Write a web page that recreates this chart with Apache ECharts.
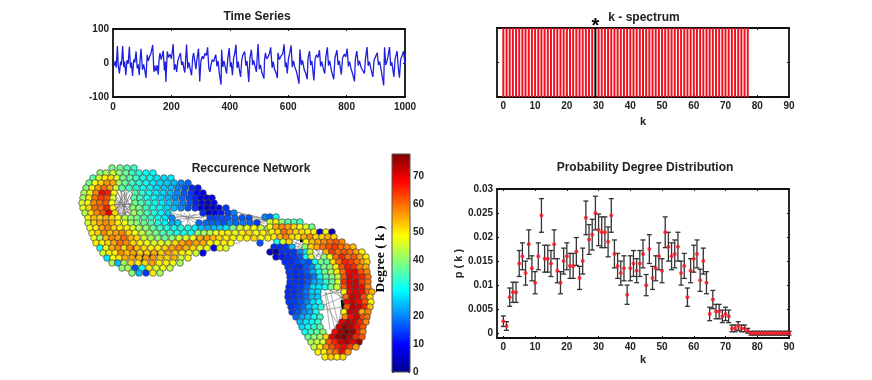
<!DOCTYPE html>
<html><head><meta charset="utf-8">
<style>html,body{margin:0;padding:0;background:#fff}#c{width:872px;height:380px}canvas{filter:blur(0.4px)}</style>
<script src="https://cdn.jsdelivr.net/npm/echarts@6/dist/echarts.min.js"></script></head>
<body><div id="c"></div>
<script>
const tsSamples=[[0,0],[4,-8],[8,6],[11,-14],[15,50],[18,-8],[22,-31],[26,4],[29,-6],[33,50],[37,-12],[40,4],[44,-36],[48,8],[52,-2],[56,48],[60,-14],[63,2],[67,-38],[71,10],[75,2],[79,34],[83,-16],[86,-4],[90,-36],[93,12],[96,42],[101,-20],[105,-4],[109,-22],[113,-44],[117,24],[121,6],[125,18],[130,28],[136,53],[140,-26],[143,-8],[147,-24],[151,-6],[155,-34],[158,12],[161,29],[165,10],[168,20],[172,36],[176,-22],[179,4],[181,-56],[186,34],[190,16],[195,26],[200,12],[206,56],[210,-20],[214,-4],[218,-26],[222,6],[226,18],[231,29],[235,-6],[239,4],[243,-18],[246,-28],[252,54],[256,-16],[260,2],[265,-20],[269,-36],[273,16],[276,30],[280,34],[284,-18],[287,8],[293,42],[297,-54],[301,6],[306,20],[310,12],[315,28],[320,22],[324,46],[328,-14],[332,-26],[336,-4],[340,10],[345,4],[349,18],[352,24],[356,-10],[360,6],[364,-30],[370,-64],[372,39],[376,-12],[380,6],[385,-14],[389,-31],[393,12],[398,44],[402,-12],[405,2],[409,-36],[413,14],[417,28],[421,54],[425,-14],[429,4],[433,-22],[437,-41],[441,10],[445,24],[451,34],[455,-8],[459,6],[465,-56],[469,16],[474,39],[478,-6],[482,8],[487,-12],[491,-26],[494,20],[497,56],[501,-18],[505,-6],[510,-28],[517,-46],[519,10],[522,30],[526,12],[531,18],[536,28],[540,46],[545,-14],[549,4],[553,-18],[558,-28],[563,-44],[565,30],[570,10],[575,20],[581,26],[586,55],[590,-12],[593,2],[597,-31],[601,14],[605,28],[610,52],[614,-12],[618,6],[622,-10],[628,-24],[637,-61],[640,40],[645,-6],[649,8],[655,-20],[660,-30],[665,-48],[668,14],[673,35],[677,-6],[681,6],[688,-51],[692,12],[697,24],[702,16],[707,38],[711,-10],[715,4],[720,-16],[725,-31],[729,18],[734,46],[738,-8],[742,6],[748,-22],[756,-48],[760,14],[767,38],[771,-6],[775,6],[782,-34],[786,14],[792,26],[797,18],[802,42],[806,-10],[810,4],[815,-16],[820,-30],[827,-54],[830,12],[835,35],[840,-8],[844,6],[850,-14],[861,-31],[865,16],[870,47],[874,-8],[878,4],[884,-20],[890,-41],[894,8],[899,18],[905,30],[909,-6],[913,4],[919,-24],[927,-66],[930,46],[934,-6],[938,4],[942,20],[947,47],[951,-8],[955,2],[962,-41],[966,12],[973,35],[977,-14],[981,-43],[985,10],[990,22],[995,35],[1000,-5]];
const tsXTicks=[0,200,400,600,800,1000];
const tsYTicks=[-100,0,100];

const spectrumValues=[1,1,1,1,1,1,1,1,1,1,1,1,1,1,1,1,1,1,1,1,1,1,1,1,1,1,1,1,1,1,1,1,1,1,1,1,1,1,1,1,1,1,1,1,1,1,1,1,1,1,1,1,1,1,1,1,1,1,1,1,1,1,1,1,1,1,1,1,1,1,1,1,1,1,1,1,1,1];
const markedDegree=29;
const kTicks=[0,10,20,30,40,50,60,70,80,90];

const pdfValues=[.0025,.0015,.0075,.0085,.0085,.0145,.016,.0125,.0185,.0135,.0105,.016,.0245,.0155,.0155,.0145,.0185,.013,.0105,.015,.016,.014,.014,.017,.0115,.015,.024,.0195,.0205,.025,.0215,.021,.021,.019,.0245,.0165,.014,.0125,.0135,.008,.0135,.0145,.013,.0145,.0165,.01,.0175,.0115,.0135,.016,.013,.021,.018,.016,.0165,.018,.0125,.014,.0075,.013,.0155,.0165,.011,.015,.0105,.004,.007,.0045,.0045,.0035,.004,.0035,.001,.001,.0015,.001,.001,.0005,0,0,0,0,0,0,0,0,0,0,0,0,0];
const pdfErrors=[.0011,.0009,.0019,.0021,.0021,.0027,.0028,.0025,.003,.0026,.0023,.0028,.0035,.0028,.0028,.0027,.003,.0025,.0023,.0027,.0028,.0026,.0026,.0029,.0024,.0027,.0035,.0031,.0032,.0035,.0033,.0032,.0032,.0031,.0035,.0029,.0026,.0025,.0026,.002,.0026,.0027,.0025,.0027,.0029,.0022,.003,.0024,.0026,.0028,.0025,.0032,.003,.0028,.0029,.003,.0025,.0026,.0019,.0025,.0028,.0029,.0023,.0027,.0023,.0014,.0019,.0015,.0015,.0013,.0014,.0013,.0007,.0007,.0009,.0007,.0007,.0005,.0004,.0004,.0004,.0004,.0004,.0004,.0004,.0004,.0004,.0004,.0004,.0004,.0004];
const pdfYTicks=[0,.005,.01,.015,.02,.025,.03];

const colorbarTicks=[0,10,20,30,40,50,60,70];
const degreeMax=78;
// network nodes by row: [layoutY, layoutX, degree, layoutX, degree, ...]
const netRows=[
[168,112,38,120,38,127,35,134,33],
[173,100,40,106,42,113,45,119,40,126,37,132,34,139,32,146,30,153,30],
[178,93,36,99,45,105,50,111,52,117,46,123,38,130,36,136,34,143,31,150,30,157,28,164,27,171,28],
[183,89,38,95,48,101,52,107,57,113,55,119,42,125,37,132,34,139,32,146,30,153,28,160,27,167,26,174,25,181,22,188,20],
[188,86,40,92,50,98,56,104,60,110,56,116,45,122,36,129,34,136,32,143,30,150,29,157,27,164,26,171,25,178,22,185,18,192,14,198,12],
[193,84,42,90,48,96,58,102,68,108,66,114,50,135,36,142,33,149,30,156,28,163,27,170,25,177,22,184,19,191,15,197,10,203,8],
[198,83,42,89,50,95,60,101,64,107,62,113,46,134,36,140,34,147,31,154,29,161,27,168,25,175,22,182,20,189,17,195,13,201,6,207,6,212,8],
[203,82,46,88,48,94,58,100,60,106,62,112,48,135,38,141,35,148,32,155,30,162,28,169,26,176,24,183,21,190,18,196,13,202,8,208,4,214,10],
[208,83,46,89,52,95,60,101,60,107,66,113,50,133,40,139,38,146,34,153,31,160,29,167,27,174,25,181,22,188,18,195,15,201,6,207,3,213,5,219,8,226,15],
[213,85,42,91,52,97,58,103,62,109,70,115,52,134,42,140,38,147,35,154,31,161,29,168,26,203,14,209,5,215,8,221,12,228,16,234,22],
[218,88,50,94,54,100,52,106,55,112,52,118,48,125,44,131,40,137,38,144,36,151,33,158,30,165,28,172,22,210,17,216,17,222,18,228,18,235,20,242,19,249,18],
[223,88,45,94,52,100,56,106,58,112,55,118,50,125,48,131,42,137,40,144,37,151,35,158,32,165,29,172,24,178,26,199,20,206,20,212,20,218,20,224,18,230,22,236,20,243,21,250,20,257,15],
[228,90,48,96,50,102,56,108,58,114,52,120,50,127,50,133,46,139,42,146,40,153,36,160,34,167,31,174,30,181,32,188,31,195,29,201,25,208,24,214,25,220,26,226,28,233,38,240,45,247,47,254,48,261,45,268,42],
[233,92,50,98,52,104,58,110,54,116,56,122,58,129,52,135,48,142,44,149,40,156,38,163,35,170,34,177,30,184,31,191,30,198,40,204,42,210,43,216,47,222,50,228,50,235,47,242,50,249,52,256,48,263,50,270,48],
[238,94,48,100,42,106,54,112,58,118,56,124,60,131,54,137,52,144,45,151,42,158,40,165,37,172,40,179,45,186,46,193,48,200,55,207,56,213,54,219,52,226,50,233,50,240,48,247,50,254,52,261,48,268,50],
[243,96,50,102,50,108,52,114,56,120,60,126,58,133,52,140,50,147,48,154,46,161,47,168,45,175,52,182,56,189,58,196,56,203,55,210,50,217,48,224,50,231,48,260,18],
[248,100,30,106,48,112,55,118,58,124,52,130,58,137,54,144,52,151,50,158,50,165,52,172,56,179,58,186,55,193,52,200,48,207,47,214,10,220,48,226,46],
[253,103,45,109,50,115,50,121,58,127,54,133,56,140,52,147,53,154,55,161,52,168,56,175,53,182,50,189,48,196,45,203,10],
[258,107,28,113,48,119,50,125,55,132,56,139,54,146,56,153,57,160,53,167,52,174,55,181,45,188,48],
[263,112,42,118,25,124,42,131,52,138,50,145,52,152,56,159,50,166,50,173,48,180,42],
[268,122,40,128,42,135,18,142,30,149,50,156,46,163,48,170,44],
[273,132,40,139,25,146,15,153,50,160,42],
[217,265,22,270,20,276,30],
[222,270,45,276,50,282,40,288,35,294,36,300,34],
[227,270,48,276,55,282,58,288,56,294,52,300,48,306,46,312,38],
[232,272,50,278,52,284,60,290,56,296,52,302,52,308,50,314,50,320,6,326,48,332,4],
[237,274,50,280,55,286,58,292,52,298,50,304,55,310,58,316,52,322,52,328,55,334,52],
[242,277,30,283,45,289,52,306,48,312,54,318,56,324,58,330,60,336,62,342,58],
[247,274,14,280,14,286,15,292,25,305,40,311,52,317,56,323,60,329,62,335,64,341,60,347,58,353,54],
[252,270,5,276,3,282,15,288,15,294,15,300,22,306,28,310,45,326,55,332,64,338,60,344,62,350,60,356,56,362,50],
[257,276,8,282,13,288,14,294,15,300,18,306,30,311,45,324,40,330,48,336,60,342,66,348,60,354,62,360,56,366,50],
[262,285,14,291,14,297,16,303,20,309,18,315,30,321,38,327,36,333,52,339,60,345,66,351,64,357,60,363,56,367,52],
[267,288,15,294,15,300,14,306,19,312,22,318,32,324,38,330,40,336,50,342,62,348,67,354,65,360,58,366,55],
[272,289,15,295,14,301,16,307,19,313,24,319,30,325,38,331,42,337,50,343,60,349,68,355,70,361,62,367,58],
[277,290,15,296,14,302,15,308,17,314,21,320,29,326,36,332,40,338,44,344,62,350,70,356,68,362,66,368,60],
[282,290,15,296,15,302,15,308,19,314,24,320,26,326,32,332,37,338,46,344,65,350,70,356,72,362,64,368,60],
[287,289,14,295,15,301,16,307,20,313,27,319,28,325,30,331,38,337,45,344,62,350,70,356,72,362,68,368,58],
[292,288,14,294,14,300,17,306,21,312,26,318,27,344,48,350,68,356,70,362,68,368,60,372,55],
[297,288,14,294,15,300,17,306,20,312,25,318,26,346,60,352,72,358,70,364,62,370,52],
[302,289,15,295,16,301,19,307,22,313,27,319,30,347,68,353,72,359,68,365,62,371,50],
[307,291,15,297,17,303,20,309,25,315,28,321,32,347,62,353,74,359,72,365,66,370,54],
[312,292,16,298,19,304,22,310,24,316,31,344,48,350,72,356,70,362,55,368,58],
[317,296,20,302,24,308,26,314,30,320,34,345,58,351,68,357,72,363,62,367,60],
[322,300,25,306,28,312,29,318,33,342,70,348,74,354,72,360,66,366,58],
[327,302,27,308,30,314,32,320,36,339,72,345,76,351,74,357,68,363,62],
[332,305,30,311,34,317,36,323,40,335,68,341,76,347,78,353,76,359,66,363,58],
[337,308,37,314,40,320,42,326,52,332,70,338,76,344,78,350,74,356,66,362,62],
[342,311,42,317,44,323,45,329,62,335,66,341,72,347,74,353,70,359,76],
[347,314,44,320,50,326,57,332,62,338,66,344,68,350,64,356,56],
[352,318,50,324,50,330,57,336,60,342,68,348,57],
[357,325,50,331,53,337,50,343,52]
];
// network links: [x1,y1,x2,y2] in layout units
const netLinks=[
[118,192,128,220],[121,192,126,220],[124,192,124,220],[127,192,122,220],[130,194,120,219],[116,196,130,216],[116,200,132,212],[116,204,133,208],[116,208,132,203],[117,212,131,198],[118,216,130,195],[122,190,118,214],[126,190,116,210],[131,204,115,204],[120,191,132,208],[116,198,128,222],[119,222,133,200],[115,212,129,192],[123,190,133,214],[115,200,124,222],[116,206,127,192],[120,220,132,206],[118,194,131,216],[117,202,133,205],[116,214,133,212],
[172,213,202,221],[172,218,205,214],[176,216,204,218],[180,214,198,224],[184,213,192,227],[190,213,186,227],[196,214,178,224],[170,220,210,216],
[215,216,268,222],[236,212,272,220],[240,214,280,222],[250,216,276,224],[235,218,270,228],[238,212,265,224],[255,219,290,224],[225,238,255,236],[205,245,240,243],
[290,240,307,248],[295,238,306,244],[300,236,292,250],[305,237,296,250],[292,245,307,241],[285,243,310,250],
[313,252,323,260],[316,250,322,258],[320,250,314,262],[323,252,312,258],
[325,294,345,292],[330,290,346,300],[335,288,348,310],[340,288,346,322],[330,290,340,330],[325,292,330,330],[322,306,345,296],[322,300,342,330],[326,292,336,334],[345,295,345,328],[343,292,338,332],[324,310,348,306],[322,296,340,290]
];
// dark shadow seen between tightly packed nodes: [x1,y1,x2,y2] in layout units
const netShadows=[
[133,240,136,258],[142,244,142,262],[150,245,150,258],[158,246,158,262],[166,244,166,258],[174,250,174,262],[112,233,118,248],[106,225,110,240],
[345,260,350,290],[342,300,345,320],[365,300,360,330],[300,240,320,240],[205,226,225,222],[190,240,215,236]
];

const frame='#111';
const tickFont={fontFamily:'Liberation Sans',fontWeight:'bold',fontSize:10,color:'#222'};
function pairAxes(type,gridIndex,min,max,ticks,showLabels,labelOpts,extra){
  const pos=type==='x'?['bottom','top']:['left','right'];
  return pos.map((p,i)=>Object.assign({type:'value',gridIndex,position:p,min,max,splitLine:{show:false},
    axisLine:{show:true,onZero:false,lineStyle:{color:frame,width:1.8}},
    axisTick:{show:true,inside:true,length:2,customValues:ticks,lineStyle:{color:frame,width:1}},
    axisLabel:Object.assign({show:i===0&&showLabels,customValues:ticks,margin:4,hideOverlap:false,showMinLabel:true,showMaxLabel:true},tickFont,labelOpts||{})
  },i===0?(extra||{}):{}));
}
const nameStyle={fontFamily:'Liberation Sans',fontWeight:'bold',fontSize:11,color:'#222'};
const fmtP=v=>v===0?'0':String(+v.toFixed(3));

const xAxes=[
  ...pairAxes('x',0,0,1000,tsXTicks,true,{margin:5,formatter:v=>String(v)}),
  ...pairAxes('x',1,-2,90,kTicks,true,{},{name:'k',nameLocation:'middle',nameGap:19,nameTextStyle:nameStyle}),
  {type:'value',gridIndex:2,min:0,max:872,show:false},
  {type:'category',gridIndex:3,data:['k'],show:false},
  ...pairAxes('x',4,-2,90,kTicks,true,{},{name:'k',nameLocation:'middle',nameGap:16,nameTextStyle:nameStyle})
];
const yAxes=[
  ...pairAxes('y',0,-100,100,tsYTicks,true),
  ...pairAxes('y',1,0,1,[0,.5,1],false),
  {type:'value',gridIndex:2,min:0,max:380,inverse:true,show:false},
  {type:'value',gridIndex:3,min:0,max:degreeMax,position:'right',splitLine:{show:false},
   axisLine:{show:false},axisTick:{show:true,inside:true,length:2,customValues:colorbarTicks,lineStyle:{color:'#444'}},
   axisLabel:Object.assign({customValues:colorbarTicks,margin:3},tickFont)},
  {type:'value',gridIndex:3,min:0,max:degreeMax,position:'left',splitLine:{show:false},
   axisLine:{show:false},axisLabel:{show:false},axisTick:{show:true,inside:true,length:2,customValues:colorbarTicks,lineStyle:{color:'#444'}}},
  ...pairAxes('y',4,-.001,.03,pdfYTicks,true,{formatter:fmtP},{name:'p ( k )',nameLocation:'middle',nameGap:26,nameTextStyle:nameStyle})
];

const jet=[[0,'#00008f'],[.125,'#0000ff'],[.375,'#00ffff'],[.625,'#ffff00'],[.875,'#ff0000'],[1,'#800000']];
const netData=[];
netRows.forEach(r=>{for(let i=1;i<r.length;i+=2)netData.push([r[i],r[0],r[i+1]]);});

const option={
  animation:false,backgroundColor:'#fff',
  title:[
    ['Time Series',252,6],['k - spectrum',639,7],['Reccurence Network',246,158],['Probability Degree Distribution',640,157]
  ].map(t=>({text:t[0],left:t[1],top:t[2],textAlign:'center',textStyle:{fontFamily:'Liberation Sans',fontWeight:'bold',fontSize:12,color:'#222'}})),
  grid:[
    {left:113,top:29,width:292,height:68},
    {left:497,top:28,width:292,height:69},
    {left:0,top:0,width:872,height:380},
    {left:392,top:154,width:18,height:218,show:true,borderColor:'#555',borderWidth:1,z:5},
    {left:497,top:189,width:292,height:149}
  ],
  xAxis:xAxes,yAxis:yAxes,
  visualMap:[{show:false,type:'continuous',seriesIndex:3,dimension:2,min:0,max:degreeMax,
    inRange:{color:['#00008f','#0000ff','#0060ff','#00ffff','#7fff7f','#ffff00','#ff8000','#ff0000','#800000']}}],
  series:[
    {type:'line',xAxisIndex:0,yAxisIndex:0,data:tsSamples,showSymbol:false,lineStyle:{color:'#1f1fe0',width:1.3}},
    {type:'bar',xAxisIndex:2,yAxisIndex:2,barWidth:2,barGap:'-100%',
     data:spectrumValues.map((v,k)=>k===markedDegree
       ?{value:[k,v],itemStyle:{color:'#000'},label:{show:true,position:'top',distance:-8,formatter:'*',fontFamily:'Liberation Sans',fontWeight:'bold',fontSize:20,color:'#000'}}
       :{value:[k,v],itemStyle:{color:'#f01020'}})},
    {type:'lines',coordinateSystem:'cartesian2d',xAxisIndex:4,yAxisIndex:4,silent:true,z:1,
     lineStyle:{color:'#777',width:.6,opacity:1},data:netLinks.map(l=>({coords:[[l[0],l[1]],[l[2],l[3]]]}))},
    {type:'scatter',xAxisIndex:4,yAxisIndex:4,data:netData,symbolSize:6.6,itemStyle:{borderColor:'#444',borderWidth:.7,opacity:1},z:3},
    {type:'bar',xAxisIndex:5,yAxisIndex:5,barWidth:'100%',data:[degreeMax],
     itemStyle:{color:new echarts.graphic.LinearGradient(0,1,0,0,jet.map(s=>({offset:s[0],color:s[1]})))}},
    {type:'custom',xAxisIndex:6,yAxisIndex:7,data:pdfValues.map((v,k)=>[k,v,pdfErrors[k]]),z:2,
     renderItem:(p,api)=>{
       const k=api.value(0),v=api.value(1),e=api.value(2);
       const a=api.coord([k,v+e]),b=api.coord([k,v-e]);const c=2.5;
       const st={stroke:'#333',lineWidth:1.3};
       return {type:'group',children:[
         {type:'line',shape:{x1:a[0],y1:a[1],x2:b[0],y2:b[1]},style:st},
         {type:'line',shape:{x1:a[0]-c,y1:a[1],x2:a[0]+c,y2:a[1]},style:st},
         {type:'line',shape:{x1:b[0]-c,y1:b[1],x2:b[0]+c,y2:b[1]},style:st}]};
     }},
    {type:'scatter',xAxisIndex:6,yAxisIndex:7,z:4,data:pdfValues.map((v,k)=>[k,v]),symbolSize:4,itemStyle:{color:'#ff1020'}},
    {type:'lines',coordinateSystem:'cartesian2d',xAxisIndex:4,yAxisIndex:4,silent:true,z:2,
     lineStyle:{color:'#111',width:3,opacity:1},data:netShadows.map(l=>({coords:[[l[0],l[1]],[l[2],l[3]]]}))}
  ],
  graphic:[{type:'text',x:381,y:259,rotation:Math.PI/2,z:10,style:{text:'Degree ( k )',fontFamily:'Liberation Serif',fontWeight:'bold',fontSize:13.5,fill:'#000',align:'center',verticalAlign:'middle'}}]
};
const chart=echarts.init(document.getElementById('c'),null,{renderer:'canvas'});
chart.setOption(option);
</script></body></html>
